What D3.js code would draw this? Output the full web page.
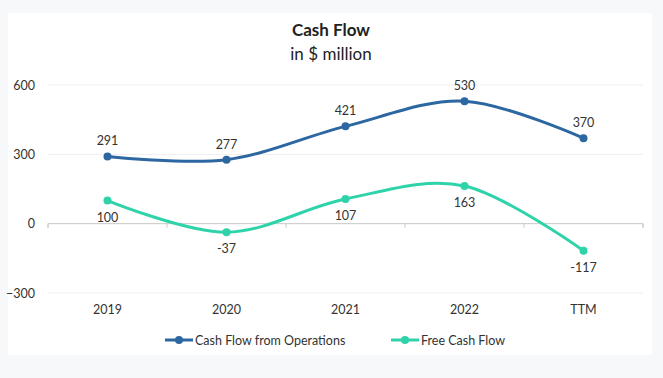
<!DOCTYPE html>
<html><head><meta charset="utf-8">
<script src="https://cdn.jsdelivr.net/npm/d3@7"></script>
<style>
html,body{margin:0;padding:0;background:#f6f8fa;}
svg{display:block;font-family:Lato,"Open Sans",sans-serif;}
</style></head>
<body>
<script>
const categories = ["2019","2020","2021","2022","TTM"];
const cfo = [291,277,421,530,370];
const fcf = [100,-37,107,163,-117];
const yTicks = [-300,0,300,600];
const seriesNames = ["Cash Flow from Operations","Free Cash Flow"];
const colors = ["#2c67a2","#2fd3aa"];

const W=663,H=378;
const FS=12.5;
const svg=d3.select("body").append("svg").attr("width",W).attr("height",H);
svg.append("rect").attr("width",W).attr("height",H).attr("fill","#f6f8fa");
svg.append("rect").attr("x",8).attr("y",13).attr("width",644).attr("height",342).attr("fill","#fff");

svg.append("text").attr("x",331).attr("y",36).attr("text-anchor","middle")
  .attr("font-size",17).attr("font-weight","bold").attr("fill","#222").text("Cash Flow");
svg.append("text").attr("x",331).attr("y",60).attr("text-anchor","middle")
  .attr("font-size",17).attr("fill","#222").text("in $ million");

const x=d3.scaleBand().domain(categories).range([48,643]);
const y=d3.scaleLinear().domain([-300,600]).range([293,85]);

// gridlines
svg.append("g").selectAll("line").data(yTicks.filter(d=>d!==0)).join("line")
  .attr("x1",48).attr("x2",643).attr("y1",d=>y(d)).attr("y2",d=>y(d))
  .attr("stroke","#efefef").attr("stroke-width",1);
const yAxis=svg.append("g").attr("transform","translate(48,0)")
  .call(d3.axisLeft(y).tickValues(yTicks).tickSize(0).tickPadding(13));
yAxis.select(".domain").remove();
yAxis.selectAll("text").attr("font-size",FS).attr("fill","#333").attr("font-family","Lato,'Open Sans',sans-serif");

// zero axis
const xAxis=svg.append("g").attr("transform",`translate(0,${y(0)})`)
  .call(d3.axisBottom(x).tickSize(4).tickFormat(""));
xAxis.select(".domain").attr("stroke","#c8c8c8").attr("d",`M48,4V0H643V4`);
xAxis.selectAll(".tick").remove();
const bounds=[...categories.map(c=>x(c)),x(categories[categories.length-1])+x.bandwidth()];
svg.append("g").selectAll("line").data(bounds).join("line")
  .attr("x1",d=>d).attr("x2",d=>d).attr("y1",y(0)).attr("y2",y(0)+4).attr("stroke","#c8c8c8");

// category labels
svg.append("g").selectAll("text").data(categories).join("text")
  .attr("x",d=>x(d)+x.bandwidth()/2).attr("y",314).attr("text-anchor","middle")
  .attr("font-size",FS).attr("fill","#333").text(d=>d);

const line=d3.line().x((d,i)=>x(categories[i])+x.bandwidth()/2).y(d=>y(d)).curve(d3.curveCardinal.tension(0));
[cfo,fcf].forEach((s,k)=>{
  svg.append("path").datum(s).attr("d",line).attr("fill","none").attr("stroke",colors[k]).attr("stroke-width",3);
  svg.append("g").selectAll("circle").data(s).join("circle")
    .attr("cx",(d,i)=>x(categories[i])+x.bandwidth()/2).attr("cy",d=>y(d)).attr("r",4).attr("fill",colors[k]);
  svg.append("g").selectAll("text").data(s).join("text")
    .attr("x",(d,i)=>x(categories[i])+x.bandwidth()/2)
    .attr("y",d=>k===0?y(d)-11:y(d)+21)
    .attr("text-anchor","middle").attr("font-size",FS).attr("fill","#333").text(d=>d);
});

// legend
const leg=[{x:165,t:seriesNames[0],c:colors[0]},{x:391,t:seriesNames[1],c:colors[1]}];
leg.forEach(l=>{
  svg.append("line").attr("x1",l.x).attr("x2",l.x+28).attr("y1",340).attr("y2",340).attr("stroke",l.c).attr("stroke-width",3);
  svg.append("circle").attr("cx",l.x+14).attr("cy",340).attr("r",4).attr("fill",l.c);
  svg.append("text").attr("x",l.x+30).attr("y",344.5).attr("font-size",FS).attr("fill","#333").text(l.t);
});
</script>
</body></html>
